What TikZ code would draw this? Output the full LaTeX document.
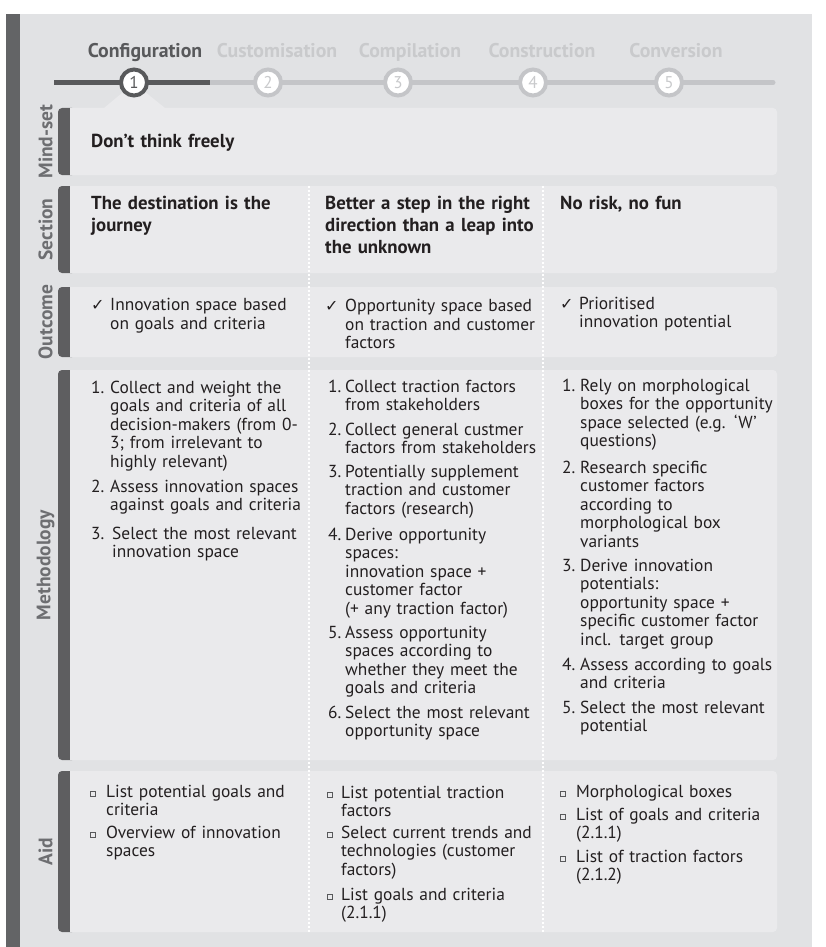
\documentclass[tikz,border=0pt]{standalone}
\usepackage{fontspec}
\setmainfont{PT Sans}
\newfontfamily\symfont{DejaVu Sans}
\definecolor{panel}{HTML}{E1E2E4}
\definecolor{rowbg}{HTML}{EAEAEC}
\definecolor{bar}{HTML}{636466}
\definecolor{tabc}{HTML}{5E5E60}
\definecolor{lbl}{HTML}{6D6E71}
\definecolor{ink}{HTML}{231F20}
\definecolor{stepoff}{HTML}{C4C5C8}
\definecolor{stepofftext}{HTML}{C9CACC}
\definecolor{stepon}{HTML}{58595B}
\newcommand\bodyfont{\fontsize{17.4}{18.5}\selectfont}
\newcommand\headfont{\fontsize{18.8}{22}\selectfont\bfseries}
\tikzset{
 txt/.style={inner sep=0pt, anchor=base west, align=left, text width=235pt, font=\bodyfont, text=ink},
 num/.style={inner sep=0pt, anchor=base west, font=\bodyfont, text=ink},
 head/.style={inner sep=0pt, anchor=base west, align=left, text width=235pt, font=\headfont, text=ink},
 rowlabel/.style={rotate=90, font=\fontsize{19.5}{20}\selectfont\bfseries, text=lbl, inner sep=0pt},
 steplabel/.style={font=\fontsize{19.8}{20}\selectfont\bfseries, inner sep=0pt, anchor=base},
 stepcirc/.style={circle, fill=white, line width=4pt, minimum size=26pt, inner sep=0pt, font=\fontsize{17}{18}\selectfont},
 sep/.style={white, line width=2pt, dash pattern=on 2pt off 2pt},
 abox/.style={draw=stepon, line width=0.6pt, minimum size=5pt, inner sep=0pt},
 chk/.style={inner sep=0pt, anchor=base west, font=\symfont\fontsize{16}{18}\selectfont, text=ink},
}
\newcommand\tablerow[4]{%
 \fill[rowbg, rounded corners=4pt] (58,#2) rectangle (777,#3);
 \fill[tabc, rounded corners=4pt] (58,#2) rectangle (76,#3);
 \fill[rowbg] (70,#2) rectangle (78,#3);
 \node[rowlabel] (#1) at (45.5,{(#2+#3)/2}) {#4};
}
% name, xnum, xtext, ybase, number, text
\newcommand\mitem[6]{%
 \node[num] (#1n) at (#2,#4) {#5};
 \node[txt] (#1) at (#3,#4) {#6};
}
% name, xcheck, xtext, ybase, text
\newcommand\oitem[5]{%
 \node[chk] (#1c) at (#2,#4) {✓};
 \node[txt] (#1) at (#3,#4) {#5};
}
% name, xbullet, xtext, ybase, text
\newcommand\aitem[5]{%
 \node[abox] (#1b) at (#2,{#4-3}) {};
 \node[txt] (#1) at (#3,#4) {#5};
}
\begin{document}
\begin{tikzpicture}[x=1pt,y=-1pt]
\useasboundingbox (0,0) rectangle (825,947);
\fill[white] (0,0) rectangle (825,947);
\fill[panel] (6,14) rectangle (812,947);
\fill[bar] (6,14) rectangle (20,947);
% pointer under step 1
\fill[rowbg] (104,108) -- (134,83) -- (165,108) -- cycle;
% step line
\coordinate (lstart) at (54,82.5);
\coordinate (lmid) at (210,82.5);
\coordinate (lmid2) at (200,82.5);
\coordinate (lend) at (773,82.5);
\draw[stepoff, line width=5pt, line cap=round] (lmid2) -- (lend);
\draw[stepon, line width=5pt] (lstart) -- (lmid);
\node[stepcirc, draw=stepon, text=stepon] (s1) at (134,82.5) {1};
\node[stepcirc, draw=stepoff, text=stepofftext] (s2) at (268,82.5) {2};
\node[stepcirc, draw=stepoff, text=stepofftext] (s3) at (398,82.5) {3};
\node[stepcirc, draw=stepoff, text=stepofftext] (s4) at (533,82.5) {4};
\node[stepcirc, draw=stepoff, text=stepofftext] (s5) at (669,82.5) {5};
\node[steplabel, text=stepon] (t1) at (145,58) {Configuration};
\node[steplabel, text=stepofftext] (t2) at (277,58) {Customisation};
\node[steplabel, text=stepofftext] (t3) at (410,58) {Compilation};
\node[steplabel, text=stepofftext] (t4) at (542,58) {Construction};
\node[steplabel, text=stepofftext] (t5) at (676,58) {Conversion};
% rows
\tablerow{lmind}{108}{175}{Mind-set}
\tablerow{lsect}{186}{273}{Section}
\tablerow{lout}{287}{357}{Outcome}
\tablerow{lmeth}{370}{760}{Methodology}
\tablerow{laid}{771}{932}{Aid}
% separators
\coordinate (sepAtop) at (309,186);
\coordinate (sepAbot) at (309,932);
\coordinate (sepBtop) at (543,186);
\coordinate (sepBbot) at (543,932);
\draw[sep] (sepAtop) -- (sepAbot);
\draw[sep] (sepBtop) -- (sepBbot);
% mind-set
\node[head] (mind) at (91,147) {Don’t think freely};
% section
\node[head] (sec1) at (91,209.5) {The destination is the\\journey};
\node[head] (sec2) at (325,209.5) {Better a step in the right\\direction than a leap into\\the unknown};
\node[head] (sec3) at (560,209.5) {No risk, no fun};
% outcome
\oitem{o1}{91}{110}{310.5}{Innovation space based\\on goals and criteria}
\oitem{o2}{325}{345}{311.5}{Opportunity space based\\on traction and customer\\factors}
\oitem{o3}{560}{579}{309}{Prioritised\\innovation potential}
% methodology col 1
\mitem{ma1}{91}{110}{393}{1.}{Collect and weight the\\goals and criteria of all\\decision-makers (from 0-\\3; from irrelevant to\\highly relevant)}
\mitem{ma2}{91}{110}{492}{2.}{Assess innovation spaces\\against goals and criteria}
\mitem{ma3}{91}{112}{539}{3.}{Select the most relevant\\innovation space}
% methodology col 2
\mitem{mb1}{328}{345}{392}{1.}{Collect traction factors\\from stakeholders}
\mitem{mb2}{328}{345}{435}{2.}{Collect general custmer\\factors from stakeholders}
\mitem{mb3}{328}{345}{477}{3.}{Potentially supplement\\traction and customer\\factors (research)}
\mitem{mb4}{328}{345}{540}{4.}{Derive opportunity\\spaces:\\innovation space +\\customer factor\\(+ any traction factor)}
\mitem{mb5}{328}{345}{638}{5.}{Assess opportunity\\spaces according to\\whether they meet the\\goals and criteria}
\mitem{mb6}{328}{345}{718}{6.}{Select the most relevant\\opportunity space}
% methodology col 3
\mitem{mc1}{562}{580}{391}{1.}{Rely on morphological\\boxes for the opportunity\\space selected (e.g. `W’\\questions)}
\mitem{mc2}{562}{580}{473}{2.}{Research specific\\customer factors\\according to\\morphological box\\variants}
\mitem{mc3}{562}{580}{571}{3.}{Derive innovation\\potentials:\\opportunity space +\\specific customer factor\\incl. target group}
\mitem{mc4}{562}{580}{670}{4.}{Assess according to goals\\and criteria}
\mitem{mc5}{562}{580}{713}{5.}{Select the most relevant\\potential}
% aid
\aitem{aa1}{93}{106}{797}{List potential goals and\\criteria}
\aitem{aa2}{93}{106}{838}{Overview of innovation\\spaces}
\aitem{ab1}{330}{341}{798}{List potential traction\\factors}
\aitem{ab2}{330}{341}{838}{Select current trends and\\technologies (customer\\factors)}
\aitem{ab3}{330}{341}{900}{List goals and criteria\\(2.1.1)}
\aitem{ac1}{563}{576}{797}{Morphological boxes}
\aitem{ac2}{563}{576}{820}{List of goals and criteria\\(2.1.1)}
\aitem{ac3}{563}{576}{862}{List of traction factors\\(2.1.2)}
\end{tikzpicture}
\end{document}
